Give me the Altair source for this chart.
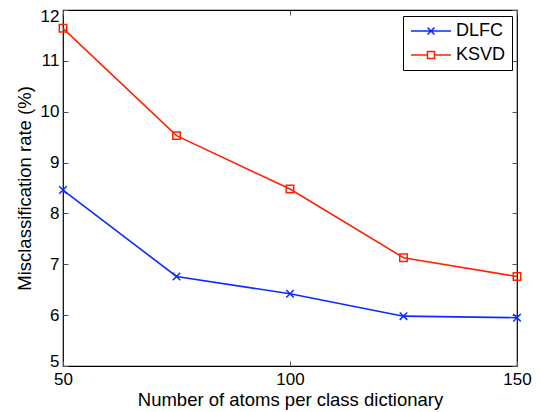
import altair as alt
import pandas as pd

atoms = [50, 75, 100, 125, 150]
dlfc = [8.46, 6.76, 6.42, 5.98, 5.95]
ksvd = [11.64, 9.53, 8.48, 7.13, 6.76]
series = ["DLFC", "KSVD"]
colors = ["#0a2bff", "#ff2200"]
x_ticks = [50, 100, 150]
y_ticks = [5, 6, 7, 8, 9, 10, 11, 12]
x_title = "Number of atoms per class dictionary"
y_title = "Misclassification rate (%)"

df = pd.DataFrame({
    "atoms": atoms * 2,
    "rate": dlfc + ksvd,
    "series": ["DLFC"] * len(atoms) + ["KSVD"] * len(atoms),
})

FONT = "Liberation Sans"
xdom = [50, 150]
ydom = [5, 12]

cross_path = "M-1,-1L1,1M-1,1L1,-1"
square_path = "M-1,-1H1V1H-1Z"
leg_cross = "M-2.86,0H2.86M-0.5,-0.5L0.5,0.5M-0.5,0.5L0.5,-0.5"
leg_square = "M-2.86,0H-0.5M0.5,0H2.86M-0.5,-0.5H0.5V0.5H-0.5Z"

def xs():
    return alt.Scale(domain=xdom, nice=False, zero=False)

def ys():
    return alt.Scale(domain=ydom, nice=False, zero=False)

tick_common = dict(offset=-5, tickSize=5, domain=False, grid=False,
                   tickColor="#555555", tickWidth=1)

base = alt.Chart(df)

lines = base.mark_line(strokeWidth=1.6).encode(
    x=alt.X("atoms:Q", scale=xs(), axis=alt.Axis(
        values=x_ticks, title=x_title, orient="bottom", labelPadding=5,
        titleY=44, titleBaseline="alphabetic",
        labelFont=FONT, labelFontSize=17, labelColor="black",
        titleFont=FONT, titleFontSize=18.5, titleFontWeight="normal", titleColor="black",
        labelFlush=False, **tick_common)),
    y=alt.Y("rate:Q", scale=ys(), axis=alt.Axis(
        values=y_ticks, title=y_title, orient="left", labelPadding=4,
        titleX=-38, titleBaseline="alphabetic",
        labelFont=FONT, labelFontSize=17, labelColor="black",
        titleFont=FONT, titleFontSize=18.5, titleFontWeight="normal", titleColor="black",
        labelFlush=False,
        labelBaseline={"condition": {"test": "datum.value == 5", "value": "alphabetic"}, "value": "middle"},
        labelOffset={"condition": {"test": "datum.value == 12", "value": 6}, "value": 0},
        **tick_common)),
    color=alt.Color("series:N", scale=alt.Scale(domain=series, range=colors), legend=None),
)

points = base.mark_point(filled=False, size=56, strokeWidth=1.5, opacity=1).encode(
    x=alt.X("atoms:Q", scale=xs(), axis=alt.Axis(
        values=x_ticks, orient="top", labels=False, title=None, **tick_common)),
    y=alt.Y("rate:Q", scale=ys(), axis=alt.Axis(
        values=y_ticks, orient="right", labels=False, title=None, **tick_common)),
    color=alt.Color("series:N", scale=alt.Scale(domain=series, range=colors), legend=None),
    shape=alt.Shape("series:N", scale=alt.Scale(domain=series, range=[cross_path, square_path]), legend=None),
)

leg_props = dict(orient="none", legendX=340, legendY=6, title=None,
                 labelFont=FONT, labelFontSize=18, labelColor="black",
                 strokeColor="black", fillColor="white", padding=6,
                 symbolOffset=13, labelOffset=16, rowPadding=6,
                 symbolOpacity=1, symbolStrokeWidth=1.6, symbolSize=196)

legend_layer = base.mark_point(filled=False, size=196, strokeWidth=1.6, opacity=0).encode(
    x=alt.X("atoms:Q", scale=xs(), axis=None),
    y=alt.Y("rate:Q", scale=ys(), axis=None),
    color=alt.Color("series:N", scale=alt.Scale(domain=series, range=colors),
                    legend=alt.Legend(**leg_props)),
    shape=alt.Shape("series:N", scale=alt.Scale(domain=series, range=[leg_cross, leg_square]),
                    legend=alt.Legend(**leg_props)),
)

chart = alt.layer(lines, points, legend_layer).resolve_scale(
    x="independent", y="independent", color="independent", shape="independent"
).properties(
    width=454, height=356,
    autosize=alt.AutoSizeParams(type="none"),
    padding={"left": 55, "top": 2, "right": 16, "bottom": 44},
).configure_view(stroke="black", strokeWidth=1.2)

chart.save("out.html", embed_options={"renderer": "svg", "actions": False})
